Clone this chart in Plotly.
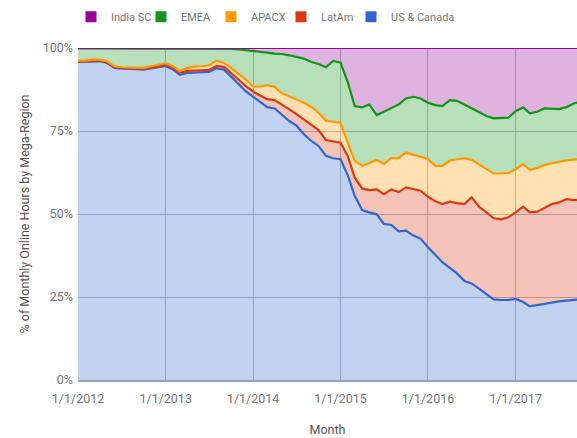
import pandas as pd
import plotly.graph_objects as go

# monthly share of online hours (%), Jan 2012 .. Oct 2017
months = pd.date_range("2012-01-01", periods=70, freq="MS")

us_canada = [95.8, 95.8, 96.0, 96.0, 95.5, 94.0, 93.8, 93.8, 93.6, 93.5, 93.8, 94.3,
             94.6, 93.5, 91.9, 92.5, 92.7, 92.7, 92.8, 93.9, 93.5, 91.5, 89.2, 87.0,
             85.3, 83.5, 82.2, 81.8, 79.8, 78.0, 76.6, 74.0, 72.0, 70.5, 67.5, 66.8,
             66.5, 61.5, 55.5, 51.2, 50.5, 49.9, 47.0, 46.7, 44.8, 45.0, 43.5, 42.6,
             40.0, 37.5, 35.5, 33.8, 32.1, 29.8, 29.1, 27.5, 25.8, 24.3, 24.1, 24.1,
             24.4, 23.5, 22.2, 22.6, 23.0, 23.4, 23.7, 23.9, 24.0, 24.3]
latam = [0.2, 0.2, 0.2, 0.2, 0.2, 0.3, 0.2, 0.2, 0.2, 0.3, 0.3, 0.3,
         0.4, 0.5, 0.6, 0.6, 0.6, 0.6, 0.6, 0.7, 0.8, 1.0, 1.3, 1.5,
         1.6, 2.1, 2.4, 2.5, 3.0, 3.5, 3.5, 4.5, 5.0, 4.8, 4.8, 5.0,
         5.0, 5.8, 5.5, 6.5, 6.7, 7.5, 9.0, 10.7, 11.8, 13.0, 13.9, 14.4,
         15.2, 16.3, 17.5, 19.9, 21.2, 23.2, 25.9, 24.7, 24.7, 24.4, 24.3, 24.9,
         26.1, 28.7, 28.3, 28.1, 28.8, 29.6, 29.8, 30.6, 30.2, 30.0]
apacx = [0.2, 0.2, 0.3, 0.3, 0.3, 0.2, 0.2, 0.2, 0.2, 0.2, 0.4, 0.4,
         0.4, 0.5, 0.5, 0.9, 1.1, 1.2, 1.4, 1.6, 1.2, 1.5, 1.7, 2.0,
         1.5, 2.8, 4.2, 4.0, 3.6, 4.0, 4.4, 5.0, 5.3, 5.2, 5.8, 6.0,
         6.0, 4.0, 5.0, 6.8, 8.1, 8.9, 9.1, 9.4, 10.2, 10.5, 10.4, 10.3,
         11.3, 10.7, 11.5, 12.4, 13.2, 13.8, 11.3, 12.8, 13.0, 13.5, 13.8, 13.4,
         13.0, 12.8, 12.8, 13.1, 13.0, 12.3, 12.3, 11.7, 12.2, 12.2]
emea = [3.7, 3.7, 3.4, 3.4, 3.9, 5.4, 5.7, 5.7, 5.9, 5.9, 5.4, 4.9,
        4.5, 5.4, 6.9, 5.9, 5.5, 5.4, 5.1, 3.6, 4.3, 5.7, 7.4, 8.9,
        10.8, 10.6, 9.8, 10.0, 11.8, 12.3, 12.9, 13.3, 13.5, 14.7, 16.1, 18.3,
        18.1, 18.2, 16.5, 17.6, 17.7, 13.5, 15.7, 15.0, 16.2, 16.3, 17.5, 17.5,
        17.0, 18.3, 18.0, 18.2, 17.6, 16.2, 15.5, 15.5, 16.0, 16.6, 16.6, 16.6,
        17.5, 17.1, 17.0, 17.0, 17.0, 16.5, 15.8, 16.0, 16.9, 17.3]
india_sc = [0.1, 0.1, 0.1, 0.1, 0.1, 0.1, 0.1, 0.1, 0.1, 0.1, 0.1, 0.1,
            0.1, 0.1, 0.1, 0.1, 0.1, 0.1, 0.1, 0.2, 0.2, 0.3, 0.4, 0.6,
            0.8, 1.0, 1.4, 1.7, 1.8, 2.2, 2.6, 3.2, 4.2, 4.8, 5.8, 3.9,
            4.4, 10.5, 17.5, 17.9, 17.0, 20.2, 19.2, 18.2, 17.0, 15.2, 14.7, 15.2,
            16.5, 17.2, 17.5, 15.7, 15.9, 17.0, 18.2, 19.5, 20.5, 21.2, 21.2, 21.0,
            19.0, 17.9, 19.7, 19.2, 18.2, 18.2, 18.4, 17.8, 16.7, 16.2]

series = [
    ("US & Canada", us_canada, "#3366cc", "rgba(51,102,204,0.3)"),
    ("LatAm", latam, "#dc3912", "rgba(220,57,18,0.3)"),
    ("APACX", apacx, "#ff9900", "rgba(255,153,0,0.3)"),
    ("EMEA", emea, "#109618", "rgba(16,150,24,0.3)"),
    ("India SC", india_sc, "#990099", "rgba(153,0,153,0.3)"),
]

fig = go.Figure()
for name, vals, line_color, fill_color in series:
    fig.add_trace(
        go.Scatter(
            x=months,
            y=vals,
            name=name,
            mode="lines",
            stackgroup="one",
            groupnorm="percent",
            line=dict(color=line_color, width=2.2),
            fillcolor=fill_color,
            hoverinfo="skip",
            showlegend=False,
        )
    )

# blank trailing legend slot, so the last label is not clipped
fig.add_trace(
    go.Scatter(
        x=[None],
        y=[None],
        name=" ",
        mode="markers",
        marker=dict(size=1, color="rgba(0,0,0,0)"),
        hoverinfo="skip",
    )
)

# square legend keys, like the original chart
for name, vals, line_color, fill_color in series:
    fig.add_trace(
        go.Scatter(
            x=[None],
            y=[None],
            name=name,
            mode="markers",
            marker=dict(symbol="square", size=11, color=line_color),
            hoverinfo="skip",
        )
    )

fig.update_layout(
    width=577,
    height=438,
    template="plotly_white",
    font=dict(family="Roboto, Arial, sans-serif", size=12.5, color="#777777"),
    margin=dict(l=78, r=0, t=48, b=58),
    showlegend=True,
    legend=dict(
        orientation="h",
        traceorder="reversed",
        x=0.487,
        xref="container",
        xanchor="center",
        y=0.995,
        yanchor="top",
        yref="container",
        font=dict(size=11, color="#777777"),
        itemwidth=30,
        entrywidth=25,
        entrywidthmode="pixels",
    ),
    xaxis=dict(
        range=["2012-01-01", "2017-09-14"],
        dtick="M12",
        tick0="2012-01-01",
        tickformat="%-m/%-d/%Y",
        showgrid=True,
        gridcolor="#b8bcc8",
        gridwidth=1,
        showline=True,
        linecolor="#9aa0b0",
        linewidth=2,
        ticks="",
        ticklabelstandoff=6,
        title=dict(text="Month", font=dict(size=12.5, color="#555555"), standoff=20),
    ),
    yaxis=dict(
        range=[0, 100],
        tickvals=[0, 25, 50, 75, 100],
        ticktext=["0%", "25%", "50%", "75%", "100%"],
        showgrid=True,
        gridcolor="#b8bcc8",
        gridwidth=1,
        zeroline=False,
        ticks="",
        ticklabelstandoff=4,
        title=dict(text="% of Monthly Online Hours by Mega-Region",
                   font=dict(size=12.5, color="#555555"), standoff=10),
    ),
)

# drop the default 8px page margin so the figure fills the window exactly
fig.write_html(
    "out.html",
    config={"displayModeBar": False},
    post_script="document.body.style.margin='0';",
)
